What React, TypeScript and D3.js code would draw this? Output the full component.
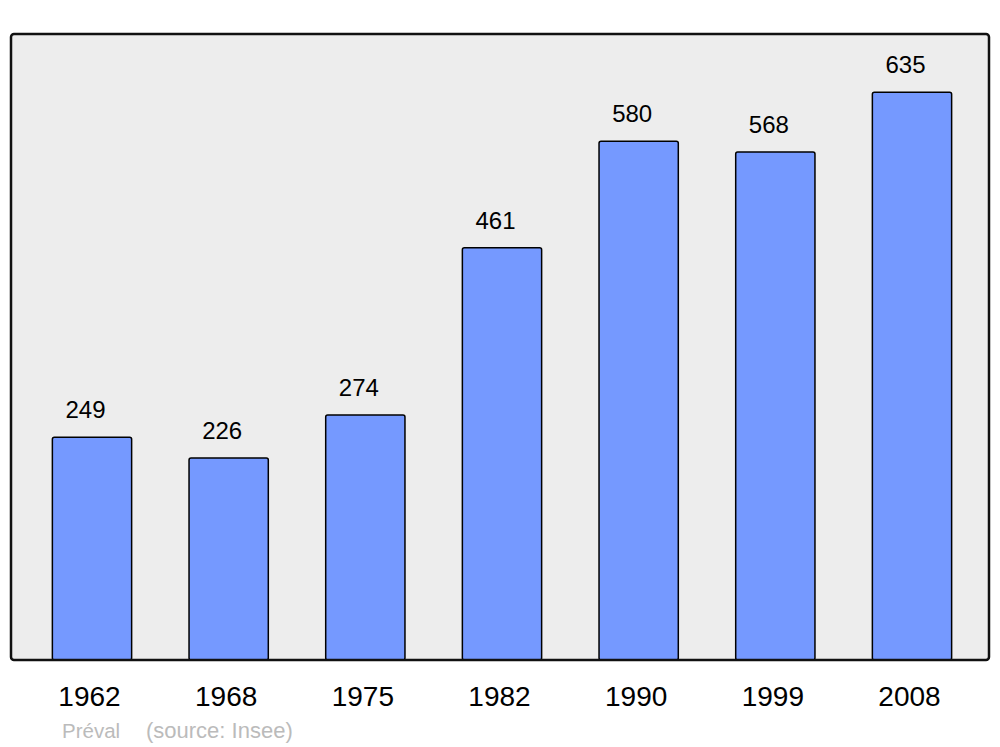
import React from "react";
import * as d3 from "d3";

const years = ["1962", "1968", "1975", "1982", "1990", "1999", "2008"];
const population = [249, 226, 274, 461, 580, 568, 635];
const commune = "Préval";
const source = "(source: Insee)";

const W = 1000;
const H = 747;
const frame = { x0: 11, x1: 989, y0: 34, y1: 660 };

export default function App() {
  const x = d3
    .scaleBand<string>()
    .domain(years)
    .range([23.67, 980.33])
    .paddingInner(0.42)
    .paddingOuter(0.21);
  const y = d3.scaleLinear().domain([0, 700]).range([frame.y1, frame.y0]);
  const font = "'Liberation Sans', Arial, sans-serif";

  return (
    <svg
      width={W}
      height={H}
      style={{ position: "absolute", left: 0, top: 0 }}
      fontFamily={font}
    >
      <rect x={0} y={0} width={W} height={H} fill="#ffffff" />
      <rect
        x={frame.x0}
        y={frame.y0}
        width={frame.x1 - frame.x0}
        height={frame.y1 - frame.y0}
        rx={3}
        fill="#ededed"
        stroke="none"
      />
      {years.map((yr, i) => {
        const bx = x(yr)!;
        const bw = x.bandwidth();
        const top = y(population[i]);
        return (
          <g key={yr}>
            <rect
              x={bx}
              y={top}
              width={bw}
              height={frame.y1 - top}
              rx={2}
              fill="#7599ff"
              stroke="#000"
              strokeWidth={1.5}
            />
            <text
              x={bx + bw / 2 - 6.5}
              y={top - 19}
              textAnchor="middle"
              fontSize={24}
              fill="#000"
            >
              {population[i]}
            </text>
            <text
              x={bx + bw / 2 - 2.5}
              y={706}
              textAnchor="middle"
              fontSize={28}
              fill="#000"
            >
              {yr}
            </text>
          </g>
        );
      })}
      <rect
        x={frame.x0}
        y={frame.y0}
        width={frame.x1 - frame.x0}
        height={frame.y1 - frame.y0}
        rx={3}
        fill="none"
        stroke="#111"
        strokeWidth={2.5}
      />
      <text x={62} y={737.5} fontSize={20.5} fill="#bbbbbb">
        {commune}
      </text>
      <text x={146} y={737.5} fontSize={22} fill="#bbbbbb">
        {source}
      </text>
    </svg>
  );
}
